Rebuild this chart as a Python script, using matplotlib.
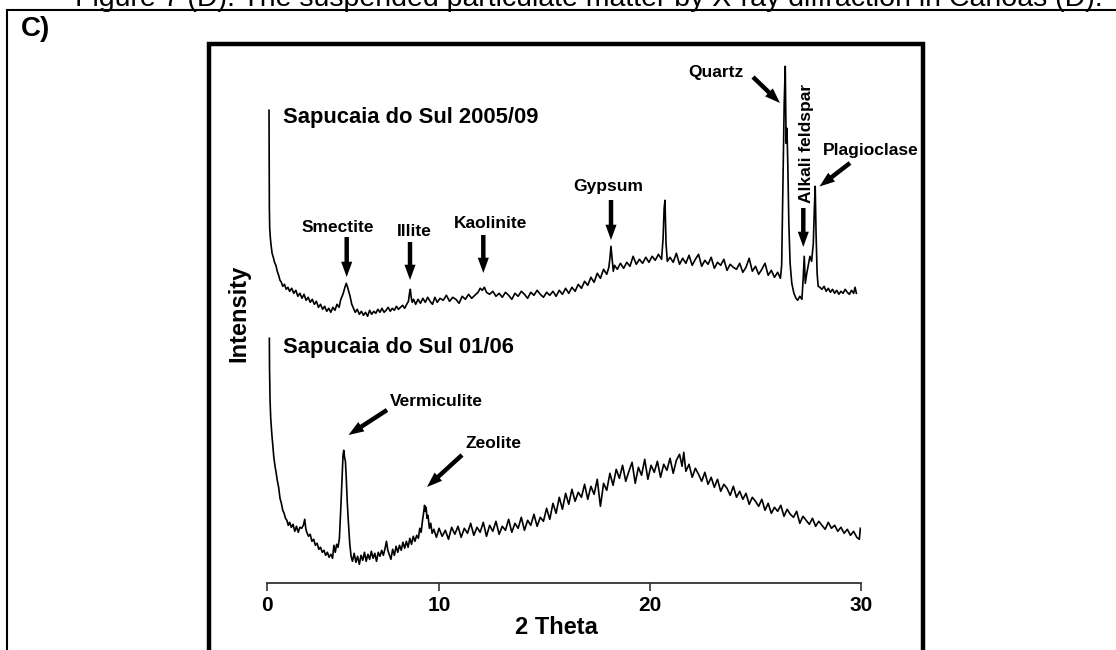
import numpy as np
import matplotlib
matplotlib.use("Agg")
import matplotlib.pyplot as plt
from matplotlib.patches import FancyArrowPatch
from matplotlib.lines import Line2D

# ---------------- data (2 Theta in degrees, intensity in arbitrary units) ----------------
TOP_X = [0.10, 0.11, 0.12, 0.14, 0.18, 0.22, 0.28, 0.35, 0.42, 0.50, 0.58, 0.66, 0.74, 0.82, 0.90, 1.00, 1.10, 1.20, 1.30,
         1.42, 1.54, 1.66, 1.78, 1.90, 2.02, 2.14, 2.26, 2.38, 2.50, 2.62, 2.74, 2.86, 2.98, 3.10, 3.22, 3.34, 3.46, 3.58, 3.70, 3.82, 3.94, 4.06, 4.18,
         4.28, 4.36, 4.44, 4.52, 4.60, 4.66, 4.74, 4.82, 4.92, 5.02, 5.12,
         5.24, 5.36, 5.48, 5.60, 5.72, 5.84, 5.96, 6.08, 6.20, 6.32, 6.44, 6.56, 6.68, 6.80, 6.92, 7.04, 7.16, 7.28, 7.40, 7.52, 7.64, 7.76, 7.88, 8.00, 8.12,
         8.22, 8.28, 8.33, 8.38, 8.44, 8.52,
         8.64, 8.78, 8.92, 9.06, 9.20, 9.34, 9.48, 9.62, 9.76, 9.90, 10.05, 10.20, 10.35, 10.50, 10.65, 10.80, 10.95, 11.10, 11.25, 11.40, 11.55, 11.70, 11.85,
         11.95, 12.05, 12.15, 12.25, 12.40, 12.55, 12.70, 12.85, 13.00, 13.15, 13.30, 13.45, 13.60, 13.75, 13.90, 14.05, 14.20, 14.35, 14.50, 14.65, 14.80,
         14.95, 15.10, 15.25,
         15.40, 15.55, 15.70, 15.85, 16.00, 16.15, 16.30, 16.45, 16.60, 16.75, 16.90, 17.05, 17.20, 17.35, 17.50, 17.65, 17.80, 17.95, 18.05,
         18.10, 18.15, 18.20, 18.26, 18.32,
         18.45, 18.60, 18.75, 18.90, 19.05, 19.20, 19.35, 19.50, 19.65, 19.80, 19.95, 20.10, 20.25, 20.40, 20.55,
         20.62, 20.67, 20.71, 20.76, 20.82,
         20.95, 21.10, 21.25, 21.40, 21.55, 21.70, 21.85, 22.00, 22.15, 22.30, 22.45, 22.60, 22.75, 22.90, 23.05, 23.20, 23.35, 23.50, 23.65, 23.80,
         23.95, 24.10, 24.25, 24.40, 24.55, 24.70, 24.85, 25.00, 25.15, 25.30, 25.45, 25.60, 25.75, 25.90, 26.05, 26.18,
         26.24, 26.30, 26.36, 26.41, 26.45, 26.49, 26.53, 26.58, 26.64, 26.72, 26.82, 26.92,
         27.00, 27.10, 27.20, 27.26, 27.31, 27.36, 27.43, 27.50, 27.58, 27.66, 27.74, 27.79, 27.83, 27.87, 27.92, 27.97,
         28.05, 28.15, 28.25, 28.35, 28.45, 28.55, 28.65, 28.75, 28.85, 28.95, 29.05, 29.15, 29.25, 29.35, 29.45, 29.55, 29.65, 29.72, 29.78]
TOP_Y = [473, 430, 376, 355, 345, 338, 330, 326, 321, 318, 312, 308, 303, 301, 297, 299, 294, 296, 292,
         295, 290, 293, 287, 290, 285, 289, 283, 286, 281, 284, 279, 282, 276, 279, 274, 277, 272, 275, 271, 276, 273, 279, 276,
         284, 287, 291, 296, 300, 297, 292, 287, 279, 275, 271,
         274, 269, 272, 268, 271, 267, 273, 269, 272, 270, 274, 271, 275, 271, 273, 276, 272, 275, 273, 277, 274, 276, 278, 275, 279,
         282, 290, 294, 286, 281, 284,
         279, 284, 280, 285, 281, 286, 282, 279, 286, 281, 285, 283, 288, 282, 286, 284, 280, 287, 284, 289, 285, 288, 291,
         295, 293, 296, 291, 289, 292, 287, 290, 286, 291, 288, 284, 290, 287, 292, 289, 285, 291, 288, 293, 289,
         286, 291, 288,
         292, 287, 293, 289, 295, 290, 296, 292, 299, 295, 302, 298, 306, 301, 310, 305, 314, 309, 316,
         325, 337, 326, 312, 318,
         314, 320, 315, 321, 317, 327, 319, 324, 320, 326, 321, 327, 323, 329, 324,
         345, 375, 383, 340, 322,
         326, 321, 330, 319, 325, 320, 328, 318, 324, 329, 317, 323, 319, 326, 315, 321, 318, 324, 313, 319,
         316, 314, 320, 311, 316, 325, 312, 317, 309, 314, 320, 308, 313, 306, 311, 305,
         318, 400, 480, 517, 440, 455, 420, 360, 320, 300, 290, 285,
         283, 287, 284, 305, 327, 300, 310, 318, 327, 322, 340, 375, 397, 350, 310, 297,
         296, 294, 297, 292, 295, 291, 294, 290, 293, 289, 292, 290, 294, 291, 289, 293, 290, 296, 290]

BOT_X = [0.12, 0.13, 0.16, 0.20, 0.26, 0.32, 0.38, 0.45, 0.52, 0.58, 0.66, 0.74, 0.82, 0.90, 0.98, 1.06, 1.14, 1.22, 1.30,
         1.40, 1.50, 1.60, 1.70, 1.80, 1.90, 2.00, 2.10, 2.18, 2.24, 2.30, 2.40, 2.50, 2.60, 2.70, 2.80, 2.90, 3.00, 3.10, 3.20,
         3.30, 3.40, 3.50, 3.60, 3.70, 3.80, 3.88, 3.96, 4.04, 4.12, 4.20,
         4.28, 4.35, 4.41, 4.45, 4.50, 4.55, 4.60, 4.66, 4.72, 4.80, 4.88,
         4.96, 5.06, 5.16, 5.26, 5.36, 5.46, 5.56, 5.66, 5.76, 5.86, 5.96, 6.06, 6.16, 6.26, 6.36, 6.46, 6.56, 6.66, 6.76, 6.86,
         6.94, 7.02, 7.10, 7.20, 7.30, 7.40, 7.50, 7.60, 7.70, 7.80, 7.90, 8.00, 8.10, 8.20, 8.30, 8.40, 8.50, 8.60, 8.70, 8.80,
         8.88, 8.96, 9.04, 9.10, 9.16, 9.20, 9.25, 9.30, 9.36, 9.44, 9.52, 9.60,
         9.70, 9.85, 10.00, 10.15, 10.30, 10.45, 10.60, 10.75, 10.90, 11.05, 11.20, 11.35, 11.50, 11.65, 11.80, 11.95, 12.10,
         12.25, 12.40, 12.55, 12.70, 12.85, 13.00, 13.15, 13.30, 13.45, 13.60, 13.75, 13.90, 14.05, 14.20, 14.35, 14.50, 14.65,
         14.80, 14.95, 15.10, 15.25,
         15.40, 15.55, 15.70, 15.85, 16.00, 16.15, 16.30, 16.45, 16.60, 16.75, 16.90, 17.05, 17.20, 17.35, 17.50, 17.65, 17.80,
         17.95, 18.10, 18.25, 18.40, 18.55, 18.70, 18.85, 19.00, 19.15, 19.30, 19.45, 19.60, 19.75, 19.90, 20.05, 20.20, 20.35,
         20.50, 20.65, 20.80, 20.95, 21.10, 21.25, 21.40, 21.52, 21.60,
         21.70, 21.85, 22.00, 22.15, 22.30, 22.45, 22.60, 22.75, 22.90, 23.05, 23.20, 23.35, 23.50, 23.65, 23.80, 23.95, 24.10,
         24.25, 24.40, 24.55, 24.70, 24.85, 25.00, 25.15, 25.30, 25.45, 25.60, 25.75, 25.90, 26.05, 26.20, 26.35, 26.50, 26.65,
         26.80, 26.95, 27.10, 27.25, 27.40, 27.55, 27.70, 27.85, 28.00, 28.15, 28.30, 28.45, 28.60, 28.75, 28.90, 29.05, 29.20,
         29.35, 29.50, 29.65, 29.80, 29.92, 29.97]
BOT_Y = [245, 215, 183, 165, 150, 138, 126, 117, 110, 103, 96, 85, 80, 73, 70, 65, 63, 58, 61,
         56, 59, 52, 57, 51, 56, 55, 58, 64, 55, 51, 47, 49, 42, 44, 38, 40, 34, 36, 31,
         33, 28, 31, 26, 29, 25, 38, 31, 39, 36, 45,
         75, 105, 128, 133, 126, 122, 105, 80, 62, 40, 27,
         22, 30, 21, 27, 19, 28, 23, 31, 22, 29, 24, 32, 25, 30, 22, 31, 27, 33, 28, 35,
         42, 33, 29, 24, 34, 28, 37, 31, 38, 33, 41, 35, 42, 36, 45, 39, 47, 42, 48, 45,
         55, 51, 63, 70, 78, 72, 76, 65, 68, 55, 60, 50,
         54, 46, 55, 47, 53, 44, 56, 49, 57, 46, 55, 50, 60, 48, 56, 51, 61,
         47, 58, 52, 62, 49, 57, 53, 64, 51, 60, 55, 66, 53, 63, 58, 69, 57,
         66, 62, 75, 64,
         80, 70, 86, 74, 90, 79, 94, 82, 91, 86, 99, 84, 97, 89, 104, 77, 100,
         93, 110, 98, 114, 105, 118, 102, 112, 121, 100, 116, 108, 124, 104, 118, 111, 122,
         106, 119, 113, 125, 110, 123, 129, 117, 131,
         112, 119, 106, 115, 109, 102, 111, 99, 106, 96, 104, 92, 99, 95, 88, 97, 86,
         92, 84, 90, 79, 86, 82, 77, 84, 73, 80, 70, 76, 72, 78, 67, 74, 69,
         66, 72, 60, 67, 63, 59, 65, 57, 62, 58, 54, 61, 55, 58, 52, 56, 50,
         54, 48, 52, 46, 44, 55]

XTICKS = [0, 10, 20, 30]
XTICK_LABELS = ["0", "10", "20", "30"]
SERIES_LABELS = ["Sapucaia do Sul 2005/09", "Sapucaia do Sul 01/06"]
MINERALS = ["Smectite", "Illite", "Kaolinite", "Gypsum", "Quartz", "Alkali feldspar",
            "Plagioclase", "Vermiculite", "Zeolite"]
TITLE = "Figure 7 (D). The suspended particulate matter by X-ray diffraction in Canoas (D)."
PANEL = "C)"
XLABEL = "2 Theta"
YLABEL = "Intensity"

# ---------------- figure ----------------
W, H = 1116, 650
fig = plt.figure(figsize=(W / 100, H / 100), dpi=100)
fig.patch.set_facecolor("white")
FONT = "Liberation Sans"


def fp(px, py):
    """pixel position (from top-left) -> figure fraction"""
    return (px / W, 1 - py / H)


# axis scale of the original plot: 0-10 is drawn narrower than 10-20 and 20-30
def fwd(x):
    x = np.asarray(x, dtype=float)
    return np.where(x < 10, x * 17.17, 171.7 + (x - 10) * 21.1)


def inv(u):
    u = np.asarray(u, dtype=float)
    return np.where(u < 171.7, u / 17.17, 10 + (u - 171.7) / 21.1)


ax_l, ax_r, ax_b, ax_t = 267.3, 861.0, 583.3, 44.0
ax = fig.add_axes([ax_l / W, 1 - ax_b / H, (ax_r - ax_l) / W, (ax_b - ax_t) / H])
ax.set_xscale("function", functions=(fwd, inv))
ax.set_facecolor("none")
ax.plot(TOP_X, TOP_Y, color="black", lw=1.2)
ax.plot(BOT_X, BOT_Y, color="black", lw=1.2)
ax.set_xlim(0, 30)
ax.set_ylim(0, ax_b - ax_t)
for s in ["left", "top", "right"]:
    ax.spines[s].set_visible(False)
ax.spines["bottom"].set_linewidth(1.3)
ax.spines["bottom"].set_color("#333333")
ax.set_yticks([])
ax.set_xticks(XTICKS)
ax.set_xticklabels(XTICK_LABELS, fontfamily=FONT, fontweight="bold", fontsize=15)
ax.tick_params(axis="x", direction="out", length=6, width=1.2, color="#333333", pad=3)

# axis titles
fig.text(*fp(556, 628), XLABEL, fontfamily=FONT, fontweight="bold", fontsize=17,
         ha="center", va="center")
fig.text(*fp(239, 313), YLABEL, fontfamily=FONT, fontweight="bold", fontsize=17,
         ha="center", va="center", rotation=90)

# series labels
fig.text(*fp(283, 118), SERIES_LABELS[0], fontfamily=FONT, fontweight="bold", fontsize=15.8,
         ha="left", va="center")
fig.text(*fp(283, 347), SERIES_LABELS[1], fontfamily=FONT, fontweight="bold", fontsize=15.8,
         ha="left", va="center")

# mineral annotations: label centre, arrow tail, arrow head (pixels)
ANN = [
    ("Smectite", (337.5, 227), (346.7, 237), (346.7, 277), 0),
    ("Illite", (414.7, 232), (410, 242), (410, 280), 0),
    ("Kaolinite", (491, 223), (483.3, 235), (483.3, 273), 0),
    ("Gypsum", (608, 187), (611, 200), (611, 240), 0),
    ("Quartz", (716, 72), (753, 77), (780, 103), 0),
    ("Alkali feldspar", (806.5, 143), (803.3, 208), (803.3, 247), 90),
    ("Plagioclase", (871, 150), (850, 163), (819.5, 186.5), 0),
    ("Vermiculite", (436.7, 402), (387, 410), (348.5, 435), 0),
    ("Zeolite", (493, 443), (462, 455), (427, 487), 0),
]
for name, tpos, tail, head, rot in ANN:
    fig.text(*fp(*tpos), name, fontfamily=FONT, fontweight="bold", fontsize=12.5,
             ha="center", va="center", rotation=rot)
    arr = FancyArrowPatch(fp(*tail), fp(*head), transform=fig.transFigure,
                          arrowstyle="simple,head_length=1.1,head_width=0.8,tail_width=0.32",
                          mutation_scale=10, color="black", shrinkA=0, shrinkB=0, lw=0)
    fig.add_artist(arr)

# inner frame (left, top, right sides)
fx0, fx1, fy0 = 209, 922.5, 44
fig.add_artist(Line2D([fx0 / W, fx0 / W, fx1 / W, fx1 / W], [0, 1 - fy0 / H, 1 - fy0 / H, 0],
                      transform=fig.transFigure, color="black", lw=3.2, solid_joinstyle="miter"))
# outer frame
ox, oy = 7, 10
fig.add_artist(Line2D([ox / W, ox / W, 1.0], [0, 1 - oy / H, 1 - oy / H],
                      transform=fig.transFigure, color="black", lw=1.5, solid_joinstyle="miter"))

# panel letter and caption (its upper part lies above the top edge, as in the source page)
fig.text(*fp(36, 29), PANEL, fontfamily=FONT, fontweight="bold", fontsize=20,
         ha="center", va="center")
fig.text(*fp(588.5, 6), TITLE, fontfamily=FONT, fontsize=20.5, ha="center", va="baseline")

fig.savefig("out.png", dpi=100, facecolor="white")
